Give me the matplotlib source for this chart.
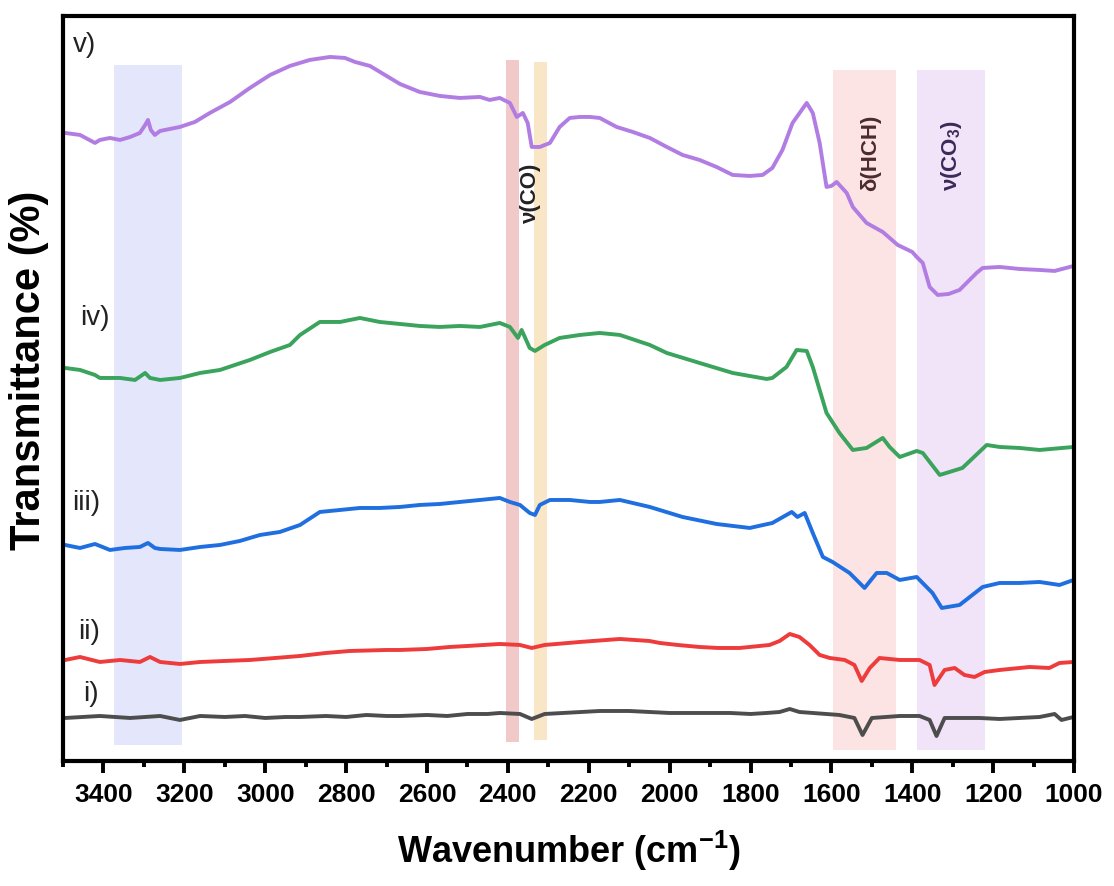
import matplotlib
matplotlib.use("Agg")
import matplotlib.pyplot as plt
from matplotlib.ticker import MultipleLocator

plt.rcParams['font.family'] = ['Liberation Sans', 'DejaVu Sans']
plt.rcParams['mathtext.fontset'] = 'custom'
plt.rcParams['mathtext.rm'] = 'Liberation Sans:bold'
plt.rcParams['mathtext.bf'] = 'Liberation Sans:bold'

# spectra, offset transmittance (a.u.)
wn_v = [3495, 3458, 3421, 3409, 3384, 3359, 3334, 3310, 3297, 3290, 3283, 3273, 3260, 3248, 3211,
        3174, 3137, 3087, 3038, 2988, 2939, 2890, 2840, 2803, 2778, 2741, 2704, 2667, 2618, 2568,
        2519, 2469, 2445, 2420, 2395, 2378, 2363, 2351, 2341, 2321, 2296, 2272, 2247, 2222, 2197,
        2173, 2131, 2091, 2049, 2007, 1968, 1926, 1884, 1844, 1802, 1770, 1746, 1721, 1696, 1661,
        1646, 1629, 1612, 1600, 1587, 1562, 1547, 1513, 1473, 1436, 1400, 1389, 1374, 1357, 1337,
        1310, 1283, 1241, 1226, 1184, 1135, 1085, 1048, 1001]
t_v = [628, 626, 618, 621, 623, 621, 624, 628, 636, 641, 631, 626, 630, 631, 634,
       639, 648, 659, 673, 686, 695, 701, 704, 703, 699, 695, 686, 677, 669, 665,
       663, 664, 661, 663, 658, 644, 648, 638, 614, 614, 618, 634, 643, 644, 644,
       643, 634, 629, 623, 614, 606, 601, 594, 586, 585, 586, 593, 611, 638, 658,
       648, 618, 574, 575, 579, 568, 554, 538, 529, 516, 509, 504, 498, 474, 466,
       467, 471, 488, 493, 494, 492, 491, 490, 495]

wn_iv = [3495, 3458, 3421, 3409, 3359, 3322, 3297, 3285, 3260, 3211, 3161, 3112, 3038, 2988, 2939,
         2914, 2865, 2815, 2766, 2717, 2667, 2618, 2568, 2519, 2469, 2420, 2395, 2375, 2366, 2346,
         2333, 2309, 2272, 2222, 2173, 2123, 2049, 2007, 1926, 1844, 1760, 1746, 1711, 1686, 1661,
         1646, 1612, 1580, 1547, 1513, 1473, 1456, 1431, 1389, 1374, 1332, 1276, 1216, 1184, 1135,
         1085, 1001]
t_iv = [393, 391, 386, 383, 383, 381, 388, 383, 381, 383, 388, 391, 401, 409, 416,
        426, 439, 439, 443, 439, 437, 435, 434, 435, 434, 438, 434, 423, 431, 413,
        410, 416, 423, 426, 428, 426, 416, 408, 398, 388, 382, 383, 394, 411, 410,
        394, 348, 328, 311, 313, 323, 314, 304, 310, 308, 286, 293, 316, 314, 313,
        311, 314]

wn_iii = [3495, 3458, 3421, 3384, 3347, 3310, 3290, 3273, 3260, 3211, 3161, 3112, 3063, 3013, 2964,
          2914, 2865, 2815, 2766, 2717, 2667, 2618, 2568, 2519, 2469, 2420, 2395, 2370, 2346, 2333,
          2321, 2296, 2247, 2197, 2173, 2123, 2049, 1968, 1884, 1802, 1746, 1698, 1684, 1666, 1646,
          1621, 1597, 1555, 1518, 1488, 1463, 1431, 1389, 1350, 1327, 1283, 1226, 1184, 1135, 1085,
          1036, 1001]
t_iii = [216, 213, 217, 211, 213, 214, 218, 213, 212, 211, 214, 216, 220, 226, 229,
         236, 249, 251, 253, 253, 254, 256, 257, 259, 261, 263, 259, 256, 248, 246,
         256, 261, 261, 259, 259, 261, 254, 244, 237, 233, 238, 249, 244, 248, 228,
         204, 199, 188, 173, 188, 188, 181, 184, 168, 153, 156, 174, 178, 178, 179,
         176, 181]

wn_ii = [3495, 3458, 3409, 3359, 3310, 3285, 3260, 3211, 3161, 3100, 3038, 2975, 2914, 2850, 2791,
         2700, 2667, 2600, 2544, 2500, 2420, 2370, 2341, 2309, 2222, 2123, 2050, 2024, 1980, 1926,
         1880, 1827, 1753, 1728, 1703, 1679, 1654, 1629, 1604, 1567, 1543, 1525, 1505, 1481, 1431,
         1382, 1357, 1345, 1320, 1295, 1271, 1246, 1221, 1184, 1110, 1061, 1036, 1001]
t_ii = [101, 104, 99, 101, 99, 104, 99, 97, 99, 100, 101, 103, 105, 108, 110,
        111, 111, 112, 114, 115, 117, 116, 113, 116, 119, 122, 120, 118, 116, 114,
        113, 113, 116, 120, 127, 124, 116, 106, 103, 101, 96, 80, 93, 103, 101,
        101, 96, 76, 91, 93, 86, 84, 89, 91, 94, 93, 98, 99]

wn_i = [3495, 3409, 3334, 3260, 3211, 3161, 3100, 3050, 3000, 2950, 2914, 2850, 2800, 2750, 2700,
        2667, 2600, 2550, 2500, 2450, 2420, 2370, 2341, 2309, 2173, 2100, 2050, 2000, 1926, 1850,
        1800, 1760, 1728, 1703, 1679, 1580, 1543, 1523, 1500, 1431, 1382, 1357, 1340, 1320, 1234,
        1184, 1085, 1048, 1031, 1001]
t_i = [43, 45, 43, 45, 41, 45, 44, 45, 43, 44, 44, 45, 44, 46, 45,
       45, 46, 45, 47, 47, 48, 47, 42, 47, 50, 50, 49, 48, 48, 48,
       47, 48, 49, 52, 49, 46, 43, 26, 43, 45, 45, 41, 25, 43, 43,
       42, 44, 47, 41, 44]

series = [
    (wn_i, t_i, '#4d4d4d', 'i)', 3451, 67),
    (wn_ii, t_ii, '#ee3b3b', 'ii)', 3463, 129),
    (wn_iii, t_iii, '#1f6fe0', 'iii)', 3478, 258),
    (wn_iv, t_iv, '#3aa35c', 'iv)', 3458, 443),
    (wn_v, t_v, '#b27de3', 'v)', 3475, 716),
]

# assignment bands: (high, low, colour, ymin, ymax)
bands = [
    (3375, 3205, '#e4e7fb', 0.021, 0.934),
    (2405, 2373, '#f1c9c9', 0.026, 0.941),
    (2336, 2304, '#f9e6c6', 0.028, 0.938),
    (1597, 1439, '#fde4e4', 0.015, 0.927),
    (1389, 1221, '#f2e4f8', 0.015, 0.927),
]

fig = plt.figure(figsize=(11.14, 8.86), dpi=100)
ax = fig.add_axes([0.0566, 0.1411, 0.9075, 0.8409])

for hi, lo, c, y0, y1 in bands:
    ax.axvspan(lo, hi, ymin=y0, ymax=y1, color=c, lw=0, zorder=0)

for wn, t, c, lab, lx, ly in series:
    ax.plot(wn, t, color=c, lw=2.8, zorder=2)
    ax.text(lx, ly, lab, fontsize=20, ha='left', va='center', color='#222222')

ax.text(2343, 568, 'ν(CO)', rotation=90, ha='center', va='center', fontsize=16,
        fontweight='bold', color='#222222')
ax.text(1503, 608, 'δ(HCH)', rotation=90, ha='center', va='center', fontsize=16,
        fontweight='bold', color='#4a2a2a')
ax.text(1303, 605, r'ν(CO$_3$)', rotation=90, ha='center', va='center', fontsize=16,
        fontweight='bold', color='#3a2a5a')

ax.set_xlim(3500, 1000)
ax.set_ylim(0, 745)
ax.set_yticks([])
ax.xaxis.set_major_locator(MultipleLocator(200))
ax.xaxis.set_minor_locator(MultipleLocator(100))
ax.tick_params(axis='x', which='major', direction='out', length=8.5, width=2.8, pad=7,
               labelsize=19)
ax.tick_params(axis='x', which='minor', direction='out', length=4, width=2.8)
for lbl in ax.get_xticklabels():
    lbl.set_fontweight('bold')
for sp in ax.spines.values():
    sp.set_linewidth(3)

ax.set_xlabel('Wavenumber (cm$^{-1}$)', fontsize=26, fontweight='bold', labelpad=16)
ax.set_ylabel('Transmittance (%)', fontsize=30, fontweight='bold')
ax.yaxis.set_label_coords(-0.014, 0.525)

fig.savefig('out.png', dpi=100)
